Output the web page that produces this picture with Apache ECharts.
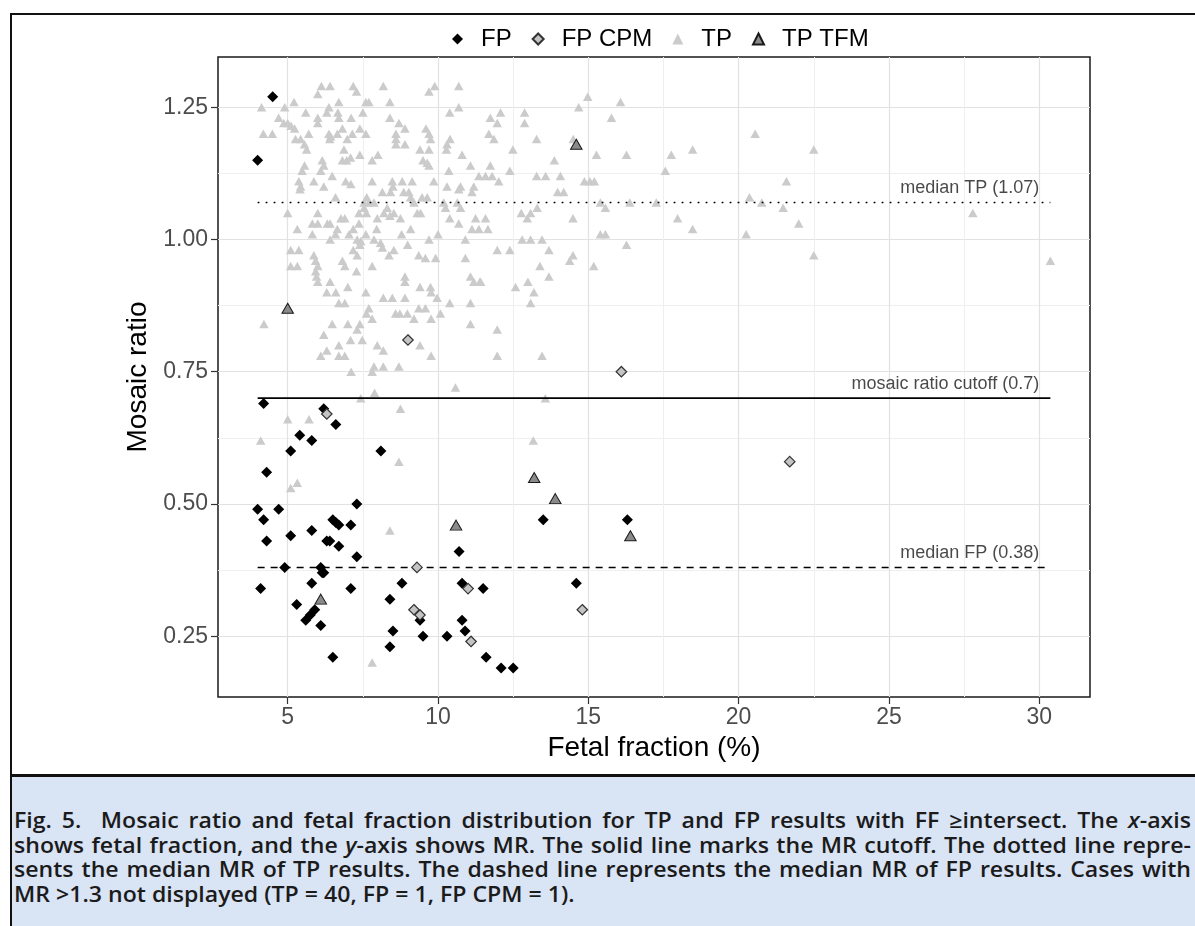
<!DOCTYPE html>
<html>
<head>
<meta charset="utf-8">
<title>Mosaic ratio vs fetal fraction</title>
<script src="https://cdn.jsdelivr.net/npm/echarts@6/dist/echarts.min.js"></script>
<style>
  html, body { margin: 0; padding: 0; background: #fff; }
  #page { position: relative; width: 1195px; height: 926px; overflow: hidden; }
  #frame {
    position: absolute; left: 10px; top: 13px; width: 1300px; height: 764px;
    box-sizing: border-box; border: 2px solid #111; border-bottom-width: 3px;
  }
  #chart { position: absolute; left: 0; top: 0; width: 1195px; height: 776px; }
  #caption {
    position: absolute; left: 10px; top: 777px; width: 1300px; height: 149px;
    box-sizing: border-box; background: #d9e4f5; border-left: 2px solid #111;
    padding: 31px 0 0 2px;
  }
  #caption .ln {
    width: 1070px;
    transform: scaleX(1.1); transform-origin: 0 0;
    font-family: "Open Sans", "Noto Sans", sans-serif;
    font-weight: 600; font-size: 21px; line-height: 24.7px; color: #1b1b1b;
    text-align: justify; text-align-last: justify;
  }
  #caption .ln.last { text-align-last: left; }
</style>
</head>
<body>
<div id="page">
  <div id="frame"></div>
  <div id="chart"></div>
  <div id="caption">
    <div class="ln">Fig. 5.&nbsp; Mosaic ratio and fetal fraction distribution for TP and FP results with FF ≥intersect. The <i>x</i>-axis</div>
    <div class="ln">shows fetal fraction, and the <i>y</i>-axis shows MR. The solid line marks the MR cutoff. The dotted line repre-</div>
    <div class="ln">sents the median MR of TP results. The dashed line represents the median MR of FP results. Cases with</div>
    <div class="ln last">MR &gt;1.3 not displayed (TP = 40, FP = 1, FP CPM = 1).</div>
  </div>
</div>
<script>
// tick values
const xTicks = [5, 10, 15, 20, 25, 30];
const xMinor = [7.5, 12.5, 17.5, 22.5, 27.5];
const yTicks = [0.25, 0.5, 0.75, 1.0, 1.25];
const yMinor = [0.375, 0.625, 0.875, 1.125];

// reference lines: median TP, cutoff, median FP
const refValues = [1.07, 0.7, 0.38];
const refLabels = ['median TP (1.07)', 'mosaic ratio cutoff (0.7)', 'median FP (0.38)'];
const refTypes = [[1.8, 6.2], 'solid', [7, 6]];
const refLabelX = 30;

// points [fetal fraction, mosaic ratio]
const fpPoints = [
  [4.0, 1.15], [4.5, 1.27], [4.2, 0.69], [6.2, 0.68], [6.6, 0.65], [5.4, 0.63], [5.8, 0.62], [5.1, 0.60], [8.1, 0.60],
  [4.3, 0.56], [4.0, 0.49], [4.2, 0.47], [4.7, 0.49], [4.3, 0.43], [5.1, 0.44], [5.8, 0.45], [6.5, 0.47], [6.6, 0.465],
  [6.7, 0.46], [7.1, 0.46], [7.3, 0.50], [6.3, 0.43], [6.4, 0.43], [6.7, 0.42], [7.3, 0.40], [4.9, 0.38], [6.1, 0.38],
  [6.15, 0.37], [6.2, 0.37], [4.1, 0.34], [5.8, 0.35], [7.1, 0.34], [5.3, 0.31], [5.6, 0.28], [5.75, 0.29], [5.9, 0.30],
  [6.1, 0.27], [6.5, 0.21], [8.8, 0.35], [8.4, 0.32], [9.4, 0.28], [8.5, 0.26], [8.4, 0.23], [9.5, 0.25], [10.3, 0.25],
  [10.7, 0.41], [10.8, 0.35], [10.8, 0.28], [10.9, 0.26], [11.5, 0.34], [11.6, 0.21], [12.1, 0.19], [12.5, 0.19],
  [13.5, 0.47], [16.3, 0.47], [14.6, 0.35]
];
const fpCpmPoints = [
  [9.0, 0.81], [6.3, 0.67], [16.1, 0.75], [21.7, 0.58], [9.3, 0.38], [9.2, 0.30], [9.4, 0.29], [11.0, 0.34], [11.1, 0.24], [14.8, 0.30]
];
const tpTfmPoints = [
  [14.6, 1.18], [5.0, 0.87], [13.2, 0.55], [13.9, 0.51], [10.6, 0.46], [16.4, 0.44], [6.1, 0.32]
];
const tpPoints = [
  [4.13, 1.25], [5.21, 1.26], [4.9, 1.25], [6.0, 1.275], [6.12, 1.29], [6.41, 1.29], [7.18, 1.29], [7.29, 1.28], [8.18, 1.29],
  [9.7, 1.28], [9.89, 1.29], [10.69, 1.29], [10.69, 1.25], [5.6, 1.24], [6.37, 1.25], [6.3, 1.24], [6.7, 1.26], [6.67, 1.24],
  [6.7, 1.23], [7.11, 1.23], [7.5, 1.24], [7.6, 1.26], [7.7, 1.26], [8.4, 1.26], [8.4, 1.23], [8.7, 1.22], [8.9, 1.21],
  [10.39, 1.24], [11.74, 1.23], [11.97, 1.22], [4.7, 1.23], [4.87, 1.22], [5.0, 1.22], [5.11, 1.215], [5.23, 1.21],
  [4.19, 1.2], [4.49, 1.2], [5.26, 1.19], [5.43, 1.19], [5.56, 1.18], [5.63, 1.17], [5.7, 1.2], [6.0, 1.23], [6.0, 1.22],
  [6.37, 1.2], [6.43, 1.195], [6.4, 1.19], [6.65, 1.2], [6.82, 1.21], [6.98, 1.19], [7.15, 1.2], [7.4, 1.21], [7.6, 1.2],
  [7.4, 1.16], [8.0, 1.16], [7.81, 1.15], [6.87, 1.17], [6.96, 1.15], [7.09, 1.155], [6.82, 1.15], [8.6, 1.2], [8.6, 1.19],
  [8.6, 1.18], [8.9, 1.18], [9.6, 1.21], [9.7, 1.2], [9.75, 1.19], [9.4, 1.17], [9.7, 1.17], [9.5, 1.15], [9.64, 1.145],
  [9.7, 1.14], [10.3, 1.18], [10.4, 1.19], [10.28, 1.17], [10.8, 1.16], [11.08, 1.14], [11.69, 1.2], [11.86, 1.19],
  [11.36, 1.12], [11.58, 1.12], [11.8, 1.12], [12.02, 1.11], [11.74, 1.14], [5.56, 1.14], [5.48, 1.13], [6.15, 1.15],
  [6.2, 1.14], [6.1, 1.13], [6.48, 1.12], [5.37, 1.11], [5.43, 1.1], [5.41, 1.095], [5.87, 1.11], [6.2, 1.1], [6.93, 1.11],
  [7.1, 1.105], [7.81, 1.11], [8.48, 1.11], [8.81, 1.11], [9.14, 1.11], [8.15, 1.09], [8.42, 1.09], [8.5, 1.1], [8.86, 1.09],
  [9.03, 1.09], [9.09, 1.08], [9.86, 1.11], [10.36, 1.13], [10.3, 1.1], [10.75, 1.1], [10.69, 1.095], [11.19, 1.1],
  [11.13, 1.09], [9.47, 1.08], [9.64, 1.08], [6.59, 1.08], [7.63, 1.08], [7.7, 1.07], [7.62, 1.05], [7.87, 1.07],
  [7.54, 1.07], [5.0, 1.05], [6.0, 1.05], [6.77, 1.04], [6.9, 1.04], [7.37, 1.05], [7.54, 1.06], [8.2, 1.05], [8.53, 1.05],
  [8.31, 1.06], [9.2, 1.07], [9.31, 1.05], [9.42, 1.05], [8.75, 1.04], [10.25, 1.06], [10.19, 1.07], [10.64, 1.07],
  [10.75, 1.06], [5.82, 1.03], [6.0, 1.03], [6.32, 1.03], [6.41, 1.03], [6.65, 1.02], [6.59, 1.01], [7.37, 1.03],
  [7.98, 1.04], [8.4, 1.045], [10.39, 1.04], [10.69, 1.03], [11.25, 1.04], [11.58, 1.04], [11.13, 1.02], [11.36, 1.02],
  [11.66, 1.02], [5.32, 1.02], [5.82, 1.01], [7.04, 1.01], [7.18, 1.02], [7.6, 1.01], [7.96, 1.02], [8.79, 1.01],
  [9.09, 1.02], [10.0, 1.01], [6.41, 1.0], [7.31, 1.0], [7.43, 0.997], [7.4, 0.99], [7.87, 1.0], [8.09, 0.994],
  [8.15, 0.985], [8.99, 0.99], [9.7, 1.0], [10.91, 1.0], [5.1, 0.98], [5.37, 0.98], [5.87, 0.97], [7.18, 0.98],
  [7.31, 0.97], [8.37, 0.97], [8.53, 0.98], [9.36, 0.97], [11.97, 0.98],
  [9.58, 0.965], [9.92, 0.965], [10.91, 0.965], [5.1, 0.95], [5.32, 0.95], [5.93, 0.96], [6.0, 0.95], [6.82, 0.96],
  [6.9, 0.95], [7.29, 0.94], [7.81, 0.95], [5.93, 0.94], [5.96, 0.93], [6.0, 0.92], [6.41, 0.92], [6.3, 0.9], [6.6, 0.9],
  [7.0, 0.91], [6.7, 0.88], [6.9, 0.88], [7.6, 0.9], [8.18, 0.89], [8.48, 0.89], [8.9, 0.93], [8.9, 0.92], [8.9, 0.89],
  [9.4, 0.91], [9.75, 0.91], [9.77, 0.9], [9.97, 0.89], [10.39, 0.88], [11.08, 0.93], [11.19, 0.92], [11.39, 0.92],
  [11.08, 0.88], [7.7, 0.87], [7.62, 0.86], [7.81, 0.85], [8.59, 0.86], [8.73, 0.86], [8.98, 0.86], [9.2, 0.85],
  [9.36, 0.87], [9.58, 0.87], [9.77, 0.85], [10.08, 0.86], [6.48, 0.84], [7.0, 0.84], [7.4, 0.84], [7.31, 0.83],
  [11.08, 0.84], [11.97, 0.83], [6.2, 0.82], [7.09, 0.81], [7.48, 0.81], [9.4, 0.80], [6.7, 0.80], [6.3, 0.79],
  [6.1, 0.78], [6.7, 0.78], [6.9, 0.78], [7.98, 0.80], [8.18, 0.79], [9.77, 0.78], [11.97, 0.78], [7.87, 0.76],
  [8.18, 0.76], [8.7, 0.76], [7.11, 0.75], [7.81, 0.75], [10.58, 0.72], [7.89, 0.71], [7.43, 0.70], [4.21, 0.84],
  [5.0, 0.66], [5.71, 0.66], [4.1, 0.62], [8.75, 0.68], [8.7, 0.58], [5.1, 0.53], [5.32, 0.54], [8.4, 0.45], [7.81, 0.20],
  [14.98, 1.27], [14.68, 1.25], [16.07, 1.26], [15.77, 1.23], [12.08, 1.24], [12.88, 1.24], [12.88, 1.22], [13.28, 1.19],
  [14.5, 1.19], [12.49, 1.17], [20.55, 1.2], [15.27, 1.16], [16.27, 1.16], [17.76, 1.16], [18.47, 1.17], [13.87, 1.15],
  [12.39, 1.13], [13.28, 1.12], [13.58, 1.12], [14.07, 1.12], [17.56, 1.13], [14.87, 1.11], [15.05, 1.11], [15.2, 1.11],
  [13.98, 1.09], [14.18, 1.09], [15.4, 1.07], [15.57, 1.06], [16.38, 1.07], [17.26, 1.07], [20.36, 1.08], [20.77, 1.07],
  [13.3, 1.06], [13.08, 1.05], [12.77, 1.05], [12.97, 1.04], [14.49, 1.04], [17.97, 1.04], [18.47, 1.02], [20.25, 1.01],
  [15.4, 1.01], [15.57, 1.01], [12.8, 1.0], [13.08, 1.0], [13.46, 1.0], [13.69, 0.98], [12.39, 0.98], [14.49, 0.97],
  [14.38, 0.96], [16.27, 0.99], [13.39, 0.95], [15.18, 0.95], [11.42, 0.92], [12.99, 0.92], [13.19, 0.9], [13.08, 0.88],
  [12.58, 0.91], [13.69, 0.93], [13.46, 0.78], [13.57, 0.70], [13.17, 0.62],
  [21.59, 1.11], [21.48, 1.06], [22.0, 1.03], [22.5, 1.17], [22.5, 0.97], [27.79, 1.05], [30.37, 0.96]
];

const FONT = 'Liberation Sans, Arial, sans-serif';

// ggplot-style 5% expansion of the data range
const allPts = fpPoints.concat(fpCpmPoints, tpTfmPoints, tpPoints);
const xs = allPts.map(p => p[0]);
const ys = allPts.map(p => p[1]);
const xLo = Math.min(...xs), xHi = Math.max(...xs);
const yLo = Math.min(...ys), yHi = Math.max(...ys);
const xMin = xLo - 0.05 * (xHi - xLo), xMax = xHi + 0.05 * (xHi - xLo);
const yMin = yLo - 0.05 * (yHi - yLo), yMax = yHi + 0.05 * (yHi - yLo);

const chart = echarts.init(document.getElementById('chart'), null, { renderer: 'canvas' });

const refSeries = refValues.map((v, i) => ({
  type: 'line',
  name: 'ref' + i,
  data: [[xLo, v], [xHi, v]],
  symbol: 'none',
  silent: true,
  z: 3,
  lineStyle: { color: '#000', width: i === 1 ? 1.6 : 1.5, type: refTypes[i] }
}));

const labelSeries = {
  type: 'scatter',
  name: 'refLabels',
  data: refValues.map((v, i) => [refLabelX, v, refLabels[i]]),
  symbolSize: 0,
  itemStyle: { color: 'transparent' },
  silent: true,
  z: 4,
  label: {
    show: true,
    formatter: p => p.data[2],
    position: [0, 0],
    align: 'right',
    verticalAlign: 'bottom',
    offset: [0, -4],
    fontFamily: FONT,
    fontSize: 18,
    lineHeight: 20,
    color: '#1a1a1a'
  }
};

const option = {
  animation: false,
  textStyle: { fontFamily: FONT },
  grid: {
    left: 218, top: 57, width: 872, height: 640,
    show: true, borderColor: '#1a1a1a', borderWidth: 1.5, backgroundColor: 'transparent'
  },
  legend: {
    data: [
      { name: 'FP', icon: 'diamond' },
      { name: 'FP CPM', icon: 'diamond' },
      { name: 'TP', icon: 'triangle' },
      { name: 'TP TFM', icon: 'triangle' }
    ],
    left: 452, top: 27, padding: 0,
    itemWidth: 11, itemHeight: 11, itemGap: 20,
    textStyle: { fontFamily: FONT, fontSize: 24, color: '#000', lineHeight: 24, padding: [0, 0, 0, 13] }
  },
  xAxis: [
    {
      type: 'value', min: xMin, max: xMax,
      name: 'Fetal fraction (%)', nameLocation: 'middle', nameGap: 35,
      nameTextStyle: { fontFamily: FONT, fontSize: 28, color: '#000' },
      axisLine: { show: false },
      axisTick: { show: true, length: 7, customValues: xTicks, lineStyle: { color: '#333', width: 1.2 } },
      axisLabel: { customValues: xTicks, fontFamily: FONT, fontSize: 23, color: '#4d4d4d', margin: 9 },
      splitLine: { show: true, lineStyle: { color: '#e2e2e2', width: 1.2 } }
    },
    {
      type: 'value', min: xMin, max: xMax, position: 'bottom',
      axisLine: { show: false },
      axisTick: { show: false, customValues: xMinor },
      axisLabel: { show: false },
      splitLine: { show: true, lineStyle: { color: '#efefef', width: 1 } }
    }
  ],
  yAxis: [
    {
      type: 'value', min: yMin, max: yMax,
      name: 'Mosaic ratio', nameLocation: 'middle', nameGap: 64,
      nameTextStyle: { fontFamily: FONT, fontSize: 28, color: '#000' },
      axisLine: { show: false },
      axisTick: { show: true, length: 7, customValues: yTicks, lineStyle: { color: '#333', width: 1.2 } },
      axisLabel: {
        customValues: yTicks, fontFamily: FONT, fontSize: 23, color: '#4d4d4d', margin: 10,
        formatter: v => v.toFixed(2)
      },
      splitLine: { show: true, lineStyle: { color: '#e2e2e2', width: 1.2 } }
    },
    {
      type: 'value', min: yMin, max: yMax, position: 'left',
      axisLine: { show: false },
      axisTick: { show: false, customValues: yMinor },
      axisLabel: { show: false },
      splitLine: { show: true, lineStyle: { color: '#efefef', width: 1 } }
    }
  ],
  series: [
    {
      type: 'scatter', name: 'TP', data: tpPoints, z: 2,
      symbol: 'triangle', symbolSize: [9.5, 8.5],
      itemStyle: { color: '#cbcbcb', opacity: 1 }
    },
    ...refSeries,
    labelSeries,
    {
      type: 'scatter', name: 'TP TFM', data: tpTfmPoints, z: 5,
      symbol: 'triangle', symbolSize: [11.5, 10],
      itemStyle: { color: '#8a8a8a', borderColor: '#1a1a1a', borderWidth: 1, opacity: 1 }
    },
    {
      type: 'scatter', name: 'FP', data: fpPoints, z: 6,
      symbol: 'diamond', symbolSize: 11,
      itemStyle: { color: '#000', opacity: 1 }
    },
    {
      type: 'scatter', name: 'FP CPM', data: fpCpmPoints, z: 7,
      symbol: 'diamond', symbolSize: 10.5,
      itemStyle: { color: '#c4c4c4', borderColor: '#333', borderWidth: 1.2, opacity: 1 }
    }
  ]
};

chart.setOption(option);
</script>
</body>
</html>
